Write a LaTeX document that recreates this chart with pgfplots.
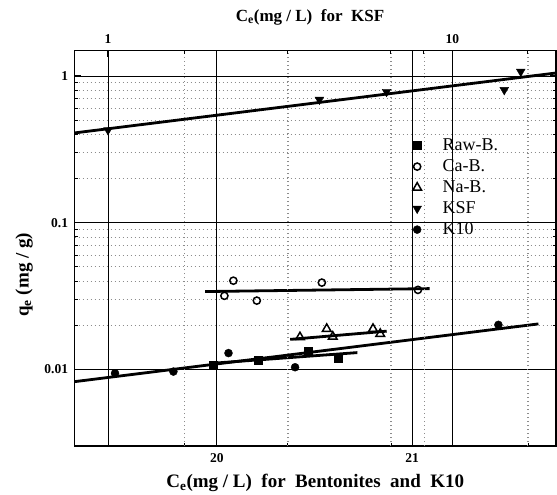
\documentclass[border=0pt]{standalone}
\usepackage{fontspec}
\setmainfont{Liberation Serif}
\usepackage{pgfplots}
\pgfplotsset{compat=1.18}

\tikzset{fitline/.style={black, line width=2.8pt}}

\begin{document}
\begin{tikzpicture}
% Bentonites and K10 (bottom axis)
\begin{axis}[
  scale only axis, width=481.4pt, height=395.3pt,
  at={(0pt,0pt)}, anchor=south west,
  clip mode=individual,
  ymode=log, ymin=0.00300, ymax=1.487,
  tick align=inside,
  major tick length=6pt, minor tick length=3.5pt,
  tick style={black, line width=1pt},
  ticklabel style={font=\bfseries\fontsize{13.5}{14}\selectfont},
  major grid style={black, line width=0.8pt},
  minor grid style={black!45, line width=0.6pt, dash pattern=on 1pt off 3pt},
  axis line style={black, line width=1.3pt},
  xmin=19.272, xmax=21.737,
  xtick pos=bottom,
  xtick={20,21}, xticklabels={20,21},
  minor xtick={19.835,20.364,20.896,21.594},
  ytick={0.01,0.1,1}, yticklabels={0.01,0.1,1},
  yticklabel style={xshift=-3pt},
  xticklabel style={yshift=-4pt},
  grid=both,
  legend style={at={(0.696,0.792)}, anchor=north west, draw=none, fill=none,
    font=\fontsize{18}{19}\selectfont, row sep=0pt,
    nodes={text height=13pt, text depth=4pt, inner sep=2pt},
    /tikz/every odd column/.append style={column sep=19pt}},
  legend cell align=left,
]
\addplot[only marks, mark=square*, mark size=4pt, black]
  coordinates {(19.98,0.0107) (20.213,0.0116) (20.469,0.0132) (20.623,0.0119)};
\addlegendentry{Raw-B.}
\addplot[only marks, mark=o, mark size=3.6pt, black, line width=1.5pt]
  coordinates {(20.039,0.0317) (20.085,0.0402) (20.205,0.0294) (20.538,0.0390) (21.03,0.0348)};
\addlegendentry{Ca-B.}
\addplot[only marks, mark=triangle, mark size=5pt, black, line width=1.5pt]
  coordinates {(20.426,0.01655) (20.563,0.01886) (20.594,0.0167) (20.80,0.01886) (20.837,0.01743)};
\addlegendentry{Na-B.}
\addlegendimage{only marks, mark=triangle*, mark size=5pt, black, mark options={rotate=180}}
\addlegendentry{KSF}
\addplot[only marks, mark=*, mark size=4pt, black]
  coordinates {(19.479,0.0094) (19.778,0.00965) (20.06,0.0129) (20.401,0.01033) (21.442,0.0201)};
\addlegendentry{K10}

% Freundlich fits
\addplot[fitline, forget plot] coordinates {(19.94,0.0339) (21.09,0.0355)};
\addplot[fitline, forget plot] coordinates {(20.376,0.0160) (20.87,0.0182)};
\addplot[fitline, forget plot] coordinates {(19.98,0.0110) (20.72,0.0130)};
\addplot[fitline, forget plot] coordinates {(19.272,0.00824) (21.647,0.0204)};

\node[font=\bfseries\fontsize{19}{20}\selectfont] at (axis description cs:0.5,-0.094)
  {C\textsubscript{e}(mg / L)\ \ for\ \ Bentonites\ \ and\ \ K10};
\node[font=\bfseries\fontsize{19}{20}\selectfont, rotate=90] at (axis description cs:-0.105,0.433)
  {q\textsubscript{e}\ (mg / g)};
\node[font=\bfseries\fontsize{17}{18}\selectfont] at (axis description cs:0.489,1.085)
  {C\textsubscript{e}(mg / L)\ \ for\ \ KSF};
\end{axis}

% KSF (top axis)
\begin{axis}[
  scale only axis, width=481.4pt, height=395.3pt,
  at={(0pt,0pt)}, anchor=south west,
  ymode=log, ymin=0.00300, ymax=1.487,
  tick align=inside,
  major tick length=6pt, minor tick length=3.5pt,
  tick style={black, line width=1pt},
  ticklabel style={font=\bfseries\fontsize{13.5}{14}\selectfont},
  major grid style={black, line width=0.8pt},
  minor grid style={black!45, line width=0.6pt, dash pattern=on 1pt off 3pt},
  axis x line*=top, axis y line=none,
  axis line style={black, line width=1.3pt},
  xmode=log, xmin=0.8, xmax=20,
  xtick={1,10}, xticklabels={1,10},
  minor xtick={1.67,3.32,6.62,8.27,16.5},
  xticklabel style={yshift=4pt},
  xmajorgrids, xminorgrids,
]
\addplot[only marks, mark=triangle*, mark size=5pt, black, mark options={rotate=180}]
  coordinates {(1.0,0.428) (4.11,0.69) (6.44,0.78) (14.15,0.803) (15.8,1.07)};
\addplot[fitline] coordinates {(0.8,0.409) (20,1.048)};
\end{axis}

\pgfresetboundingbox
\useasboundingbox (-74.6pt,-49pt) rectangle (482.4pt,446pt);
\end{tikzpicture}
\end{document}
